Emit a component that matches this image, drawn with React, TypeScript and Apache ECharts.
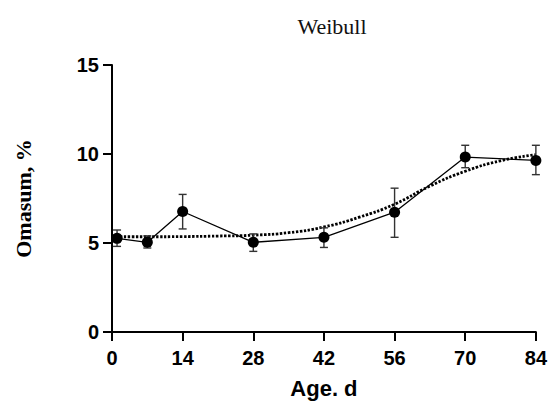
import React, { useEffect, useRef } from "react";
import * as echarts from "echarts";

const days = [1, 7, 14, 28, 42, 56, 70, 84];
const means = [5.26, 5.04, 6.77, 5.04, 5.32, 6.73, 9.83, 9.64];
const errLow = [4.81, 4.72, 5.79, 4.53, 4.75, 5.32, 9.23, 8.84];
const errHigh = [5.73, 5.4, 7.73, 5.51, 5.85, 8.08, 10.49, 10.49];

const fitDays = [0, 7, 14, 21, 28, 35, 42, 49, 56, 63, 70, 77, 84];
const fitValues = [5.35, 5.35, 5.36, 5.39, 5.44, 5.58, 5.9, 6.45, 7.18, 8.2, 9.03, 9.62, 9.96];

const xTicks = [0, 14, 28, 42, 56, 70, 84];
const yTicks = [0, 5, 10, 15];

export default function App() {
  const ref = useRef<HTMLDivElement>(null);
  useEffect(() => {
    if (!ref.current) return;
    const chart = echarts.init(ref.current, null, { renderer: "svg" });
    const sans = "Liberation Sans, Arial, sans-serif";
    const serif = "Liberation Serif, Times New Roman, serif";
    chart.setOption({
      animation: false,
      backgroundColor: "#fff",
      title: {
        text: "Weibull",
        left: 327,
        top: 10,
        textAlign: "center",
        textStyle: { fontFamily: serif, fontSize: 22, fontWeight: "normal", color: "#111" },
      },
      grid: { left: 112, right: 13, top: 65, bottom: 73, containLabel: false },
      xAxis: {
        type: "value",
        min: xTicks[0],
        max: xTicks[xTicks.length - 1],
        interval: 14,
        name: "Age. d",
        nameLocation: "middle",
        nameGap: 45,
        nameTextStyle: { fontFamily: sans, fontSize: 22, fontWeight: "bold", color: "#000" },
        axisLine: { show: true, lineStyle: { color: "#000", width: 2 } },
        axisTick: { show: true, length: 9, lineStyle: { color: "#000", width: 2 } },
        axisLabel: { margin: 16, fontFamily: sans, fontSize: 20, fontWeight: "bold", color: "#000" },
        splitLine: { show: false },
      },
      yAxis: {
        type: "value",
        min: yTicks[0],
        max: yTicks[yTicks.length - 1],
        interval: 5,
        name: "Omasum, %",
        nameLocation: "middle",
        nameGap: 78,
        nameTextStyle: { fontFamily: serif, fontSize: 22, fontWeight: "bold", color: "#000" },
        axisLine: { show: true, lineStyle: { color: "#000", width: 2 } },
        axisTick: { show: true, length: 9, lineStyle: { color: "#000", width: 2 } },
        axisLabel: { margin: 13, fontFamily: sans, fontSize: 20, fontWeight: "bold", color: "#000" },
        splitLine: { show: false },
      },
      series: [
        {
          type: "line",
          name: "fit",
          data: fitDays.map((d, i) => [d, fitValues[i]]),
          smooth: true,
          showSymbol: false,
          symbol: "none",
          lineStyle: { color: "#000", width: 2.8, type: [2.4, 1.6] },
          z: 3,
        },
        {
          type: "custom",
          name: "err",
          data: days.map((d, i) => [d, errLow[i], errHigh[i]]),
          renderItem: (params: any, api: any) => {
            const x = api.value(0);
            const lo = api.coord([x, api.value(1)]);
            const hi = api.coord([x, api.value(2)]);
            const w = 4;
            const style = { stroke: "#333", lineWidth: 1.4, fill: "none" };
            return {
              type: "group",
              children: [
                { type: "line", shape: { x1: lo[0], y1: lo[1], x2: hi[0], y2: hi[1] }, style },
                { type: "line", shape: { x1: lo[0] - w, y1: lo[1], x2: lo[0] + w, y2: lo[1] }, style },
                { type: "line", shape: { x1: hi[0] - w, y1: hi[1], x2: hi[0] + w, y2: hi[1] }, style },
              ],
            };
          },
          z: 4,
        },
        {
          type: "line",
          name: "mean",
          data: days.map((d, i) => [d, means[i]]),
          symbol: "circle",
          symbolSize: 11,
          itemStyle: { color: "#000" },
          lineStyle: { color: "#000", width: 1.3 },
          z: 5,
        },
      ],
    });
    return () => chart.dispose();
  }, []);
  return <div ref={ref} style={{ position: "absolute", left: 0, top: 0, width: 550, height: 405 }} />;
}
